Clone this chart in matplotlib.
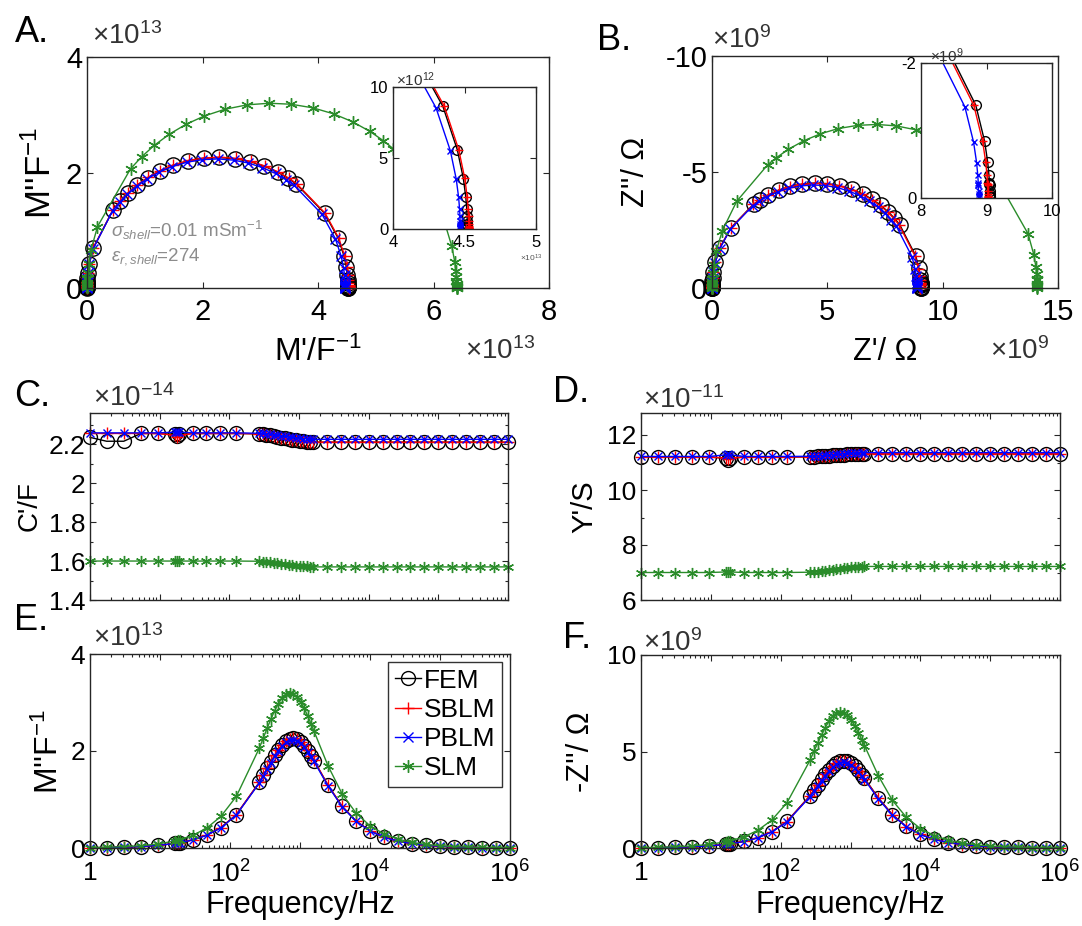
import numpy as np
import matplotlib
matplotlib.use("Agg")
import matplotlib.pyplot as plt
from matplotlib.lines import Line2D
from matplotlib.ticker import FixedLocator, NullFormatter

plt.rcParams['font.family'] = ['Liberation Sans', 'DejaVu Sans']
plt.rcParams['mathtext.fontset'] = 'custom'
plt.rcParams['mathtext.rm'] = 'Liberation Sans'
plt.rcParams['mathtext.it'] = 'Liberation Sans:italic'

# frequency points (Hz)
freq = [1, 1.73, 3.05, 5.4, 9.5, 16.6, 17.8, 19.1, 29.9, 46.8, 74.1, 123,
        263, 300, 340, 385, 435, 490, 555, 630, 710, 800, 905, 1020, 1150, 1300, 1450,
        1585, 2512, 3981, 6310, 1e4, 15850, 25120, 39810, 63100, 1e5, 158500, 251200,
        398100, 631000, 1e6]

# M' (x1e13 F^-1)
fem_mr = [0.0000, 0.0000, 0.0001, 0.0002, 0.0007, 0.0020, 0.0023, 0.0026, 0.0065, 0.0158, 0.0394, 0.107,
          0.451, 0.570, 0.706, 0.867, 1.052, 1.256, 1.493, 1.757, 2.020, 2.288, 2.566, 2.825, 3.071, 3.301, 3.485,
          3.621, 4.113, 4.349, 4.450, 4.492, 4.509, 4.5155, 4.5182, 4.5193, 4.5197, 4.5199, 4.52, 4.52, 4.52, 4.52]
sblm_mr = [0.0000, 0.0000, 0.0001, 0.0002, 0.0007, 0.0020, 0.0023, 0.0026, 0.0065, 0.0158, 0.0395, 0.1072,
           0.4520, 0.5713, 0.7076, 0.8689, 1.0543, 1.2588, 1.4963, 1.7609, 2.0244, 2.2930, 2.5716, 2.8312, 3.0778, 3.3083, 3.4927,
           3.6290, 4.1220, 4.3586, 4.4598, 4.5019, 4.5189, 4.5254, 4.5281, 4.5292, 4.5296, 4.5298, 4.53, 4.53, 4.53, 4.53]
pblm_mr = [0.0000, 0.0000, 0.0001, 0.0002, 0.0006, 0.0020, 0.0023, 0.0026, 0.0064, 0.0156, 0.0390, 0.1058,
           0.4460, 0.5637, 0.6982, 0.8574, 1.0403, 1.2421, 1.4765, 1.7376, 1.9976, 2.2627, 2.5376, 2.7938, 3.0371, 3.2645, 3.4465,
           3.5809, 4.0675, 4.3007, 4.4012, 4.4423, 4.4589, 4.4656, 4.4683, 4.4693, 4.4697, 4.4699, 4.47, 4.47, 4.47, 4.47]
slm_mr = [0.0000, 0.0000, 0.0001, 0.0004, 0.0011, 0.0034, 0.0039, 0.0045, 0.0110, 0.0269, 0.0671, 0.1814,
          0.7533, 0.9466, 1.1667, 1.4227, 1.7114, 2.0262, 2.3853, 2.7750, 3.1552, 3.5360, 3.9194, 4.2714, 4.5978, 4.8979, 5.1341,
          5.3050, 5.9142, 6.1971, 6.3174, 6.3670, 6.3868, 6.3948, 6.3979, 6.3992, 6.3997, 6.3999, 6.40, 6.40, 6.40, 6.40]

# M'' (x1e13 F^-1)
fem_mi = [0.0057, 0.0099, 0.0174, 0.0309, 0.0544, 0.0949, 0.1017, 0.1094, 0.1706, 0.2667, 0.4204, 0.6870,
          1.3546, 1.5002, 1.6412, 1.780, 1.910, 2.025, 2.126, 2.204, 2.247, 2.260, 2.239, 2.188, 2.109, 2.006, 1.899,
          1.804, 1.294, 0.863, 0.557, 0.355, 0.225, 0.142, 0.0897, 0.0566, 0.0357, 0.0225, 0.0142, 0.0089, 0.0057, 0.0036]
sblm_mi = [0.0057, 0.0099, 0.0175, 0.0310, 0.0545, 0.0951, 0.1019, 0.1096, 0.1710, 0.2673, 0.4213, 0.6885,
           1.3576, 1.5035, 1.6448, 1.7839, 1.9142, 2.0295, 2.1307, 2.2088, 2.2519, 2.2650, 2.2439, 2.1928, 2.1136, 2.0104, 1.9032,
           1.8080, 1.2968, 0.8649, 0.5582, 0.3558, 0.2255, 0.1423, 0.0899, 0.0567, 0.0358, 0.0225, 0.0142, 0.0089, 0.0057, 0.0036]
pblm_mi = [0.0056, 0.0098, 0.0172, 0.0306, 0.0538, 0.0939, 0.1006, 0.1082, 0.1687, 0.2638, 0.4157, 0.6794,
           1.3396, 1.4836, 1.6230, 1.7603, 1.8889, 2.0026, 2.1025, 2.1796, 2.2221, 2.2350, 2.2142, 2.1638, 2.0857, 1.9838, 1.8780,
           1.7840, 1.2797, 0.8535, 0.5508, 0.3511, 0.2225, 0.1404, 0.0887, 0.0560, 0.0353, 0.0223, 0.0140, 0.0088, 0.0056, 0.0036]
slm_mi = [0.0089, 0.0154, 0.0271, 0.0480, 0.0845, 0.1476, 0.1582, 0.1698, 0.2653, 0.4143, 0.6515, 1.0624,
          2.0627, 2.2726, 2.4710, 2.6611, 2.8326, 2.9766, 3.0944, 3.1718, 3.1994, 3.1821, 3.1181, 3.0150, 2.8787, 2.7123, 2.5491,
          2.4102, 1.6954, 1.1206, 0.7206, 0.4582, 0.2899, 0.1833, 0.1157, 0.0730, 0.0461, 0.0291, 0.0184, 0.0116, 0.0073, 0.0046]

# Z' (x1e9 Ohm)
fem_zr = [9.05, 9.05, 9.05, 9.0496, 9.0487, 9.046, 9.0454, 9.0447, 9.037, 9.018, 8.971, 8.836,
          8.147, 7.910, 7.636, 7.313, 6.944, 6.536, 6.060, 5.531, 5.006, 4.468, 3.913, 3.394, 2.901, 2.441, 2.072,
          1.801, 0.815, 0.343, 0.139, 0.056, 0.0224, 0.0090, 0.0035, 0.0014, 0.0006, 0.0002, 0.0001, 0.0, 0.0, 0.0]
sblm_zr = [9.02, 9.02, 9.02, 9.0196, 9.0187, 9.016, 9.0154, 9.0147, 9.007, 8.988, 8.941, 8.807,
           8.120, 7.884, 7.611, 7.289, 6.921, 6.514, 6.040, 5.513, 4.989, 4.453, 3.900, 3.383, 2.891, 2.433, 2.065,
           1.795, 0.812, 0.342, 0.139, 0.056, 0.0223, 0.0090, 0.0035, 0.0014, 0.0006, 0.0002, 0.0001, 0.0, 0.0, 0.0]
pblm_zr = [8.88, 8.88, 8.88, 8.8796, 8.8787, 8.876, 8.8754, 8.8748, 8.867, 8.849, 8.803, 8.670,
           7.994, 7.761, 7.493, 7.176, 6.814, 6.413, 5.946, 5.427, 4.912, 4.384, 3.840, 3.330, 2.847, 2.395, 2.033,
           1.767, 0.800, 0.337, 0.136, 0.055, 0.0220, 0.0088, 0.0034, 0.0014, 0.0006, 0.0002, 0.0001, 0.0, 0.0, 0.0]
slm_zr = [14.100, 14.100, 14.100, 14.099, 14.098, 14.093, 14.091, 14.090, 14.076, 14.041, 13.952, 13.700,
          12.440, 12.015, 11.530, 10.966, 10.330, 9.636, 8.845, 7.986, 7.149, 6.310, 5.465, 4.690, 3.970, 3.309, 2.789,
          2.413, 1.070, 0.447, 0.182, 0.0728, 0.0290, 0.0116, 0.0047, 0.0018, 0.0007, 0.0003, 0.0001, 0.0, 0.0, 0.0]

# -Z'' (x1e9 Ohm)
fem_nzi = [0.0115, 0.0198, 0.0349, 0.0619, 0.1089, 0.190, 0.204, 0.219, 0.342, 0.534, 0.842, 1.376,
           2.712, 3.004, 3.286, 3.564, 3.824, 4.054, 4.257, 4.412, 4.500, 4.525, 4.483, 4.381, 4.224, 4.016, 3.802,
           3.613, 2.590, 1.728, 1.116, 0.710, 0.450, 0.284, 0.180, 0.113, 0.0715, 0.0451, 0.0284, 0.0179, 0.0113, 0.0071]
sblm_nzi = [0.0115, 0.0197, 0.0348, 0.0617, 0.1085, 0.189, 0.203, 0.218, 0.341, 0.532, 0.839, 1.371,
            2.703, 2.994, 3.275, 3.552, 3.811, 4.041, 4.243, 4.397, 4.485, 4.510, 4.468, 4.366, 4.210, 4.003, 3.789,
            3.601, 2.581, 1.722, 1.112, 0.708, 0.449, 0.283, 0.179, 0.113, 0.0713, 0.0450, 0.0283, 0.0178, 0.0113, 0.0071]
pblm_nzi = [0.0113, 0.0194, 0.0342, 0.0607, 0.1069, 0.186, 0.200, 0.215, 0.336, 0.524, 0.826, 1.350,
            2.661, 2.948, 3.224, 3.497, 3.752, 3.978, 4.177, 4.329, 4.416, 4.440, 4.399, 4.299, 4.145, 3.941, 3.731,
            3.545, 2.541, 1.696, 1.095, 0.697, 0.442, 0.279, 0.177, 0.111, 0.0702, 0.0443, 0.0279, 0.0176, 0.0111, 0.0070]
slm_nzi = [0.0196, 0.0338, 0.0598, 0.1058, 0.1861, 0.3251, 0.3486, 0.3741, 0.5846, 0.9127, 1.435, 2.341,
           4.544, 5.007, 5.444, 5.863, 6.241, 6.558, 6.817, 6.988, 7.049, 7.011, 6.870, 6.643, 6.342, 5.976, 5.616,
           5.310, 3.735, 2.469, 1.588, 1.010, 0.639, 0.404, 0.255, 0.161, 0.1015, 0.0640, 0.0405, 0.0255, 0.0161, 0.0102]

# C' (x1e-14 F)
fem_c = [2.235, 2.215, 2.215, 2.255, 2.255, 2.250, 2.240, 2.250, 2.255, 2.255, 2.255, 2.255,
         2.253, 2.251, 2.248, 2.245, 2.242, 2.238, 2.234, 2.230, 2.227, 2.223, 2.220, 2.217, 2.215, 2.213, 2.211,
         2.210, 2.210, 2.210, 2.210, 2.210, 2.210, 2.210, 2.210, 2.210, 2.210, 2.210, 2.210, 2.210, 2.210, 2.210]
sblm_c = [2.255, 2.255, 2.255, 2.255, 2.255, 2.245, 2.235, 2.245, 2.255, 2.255, 2.255, 2.255,
          2.253, 2.251, 2.248, 2.245, 2.242, 2.238, 2.234, 2.230, 2.227, 2.223, 2.220, 2.217, 2.215, 2.213, 2.211,
          2.210, 2.210, 2.210, 2.210, 2.210, 2.210, 2.210, 2.210, 2.210, 2.210, 2.210, 2.210, 2.210, 2.210, 2.210]
pblm_c = [2.258, 2.258, 2.258, 2.258, 2.258, 2.262, 2.265, 2.262, 2.258, 2.258, 2.258, 2.258,
          2.256, 2.255, 2.253, 2.251, 2.248, 2.245, 2.243, 2.240, 2.237, 2.235, 2.232, 2.230, 2.228, 2.227, 2.226,
          2.225, 2.225, 2.225, 2.225, 2.225, 2.225, 2.225, 2.225, 2.225, 2.225, 2.225, 2.225, 2.225, 2.225, 2.225]
slm_c = [1.600, 1.600, 1.600, 1.600, 1.600, 1.600, 1.600, 1.600, 1.600, 1.600, 1.600, 1.600,
         1.599, 1.597, 1.595, 1.593, 1.591, 1.589, 1.586, 1.584, 1.581, 1.579, 1.577, 1.575, 1.573, 1.572, 1.571,
         1.570, 1.570, 1.570, 1.570, 1.570, 1.570, 1.570, 1.570, 1.570, 1.570, 1.570, 1.570, 1.570, 1.570, 1.570]

# Y' (x1e-11 S)
fem_y = [11.20, 11.20, 11.20, 11.20, 11.20, 11.15, 11.10, 11.15, 11.20, 11.20, 11.20, 11.20,
         11.206, 11.212, 11.219, 11.226, 11.236, 11.246, 11.255, 11.266, 11.276, 11.285, 11.294, 11.302, 11.308, 11.313, 11.316,
         11.32, 11.32, 11.32, 11.32, 11.32, 11.32, 11.32, 11.32, 11.32, 11.32, 11.32, 11.32, 11.32, 11.32, 11.32]
sblm_y = [11.20, 11.20, 11.20, 11.20, 11.20, 11.16, 11.12, 11.16, 11.20, 11.20, 11.20, 11.20,
          11.206, 11.212, 11.219, 11.226, 11.236, 11.246, 11.255, 11.266, 11.276, 11.285, 11.294, 11.302, 11.308, 11.313, 11.316,
          11.32, 11.32, 11.32, 11.32, 11.32, 11.32, 11.32, 11.32, 11.32, 11.32, 11.32, 11.32, 11.32, 11.32, 11.32]
pblm_y = [11.22, 11.22, 11.22, 11.22, 11.22, 11.28, 11.30, 11.28, 11.22, 11.22, 11.22, 11.22,
          11.227, 11.234, 11.242, 11.251, 11.262, 11.273, 11.284, 11.297, 11.308, 11.319, 11.329, 11.339, 11.346, 11.352, 11.356,
          11.36, 11.36, 11.36, 11.36, 11.36, 11.36, 11.36, 11.36, 11.36, 11.36, 11.36, 11.36, 11.36, 11.36, 11.36]
slm_y = [7.00, 7.00, 7.00, 7.00, 7.00, 7.02, 7.03, 7.02, 7.00, 7.00, 7.00, 7.00,
         7.011, 7.022, 7.035, 7.048, 7.066, 7.084, 7.101, 7.121, 7.139, 7.156, 7.172, 7.187, 7.198, 7.207, 7.213,
         7.22, 7.22, 7.22, 7.22, 7.22, 7.22, 7.22, 7.22, 7.22, 7.22, 7.22, 7.22, 7.22, 7.22, 7.22]

labels = ['FEM', 'SBLM', 'PBLM', 'SLM']
GREEN = '#2a8c2a'
AXC = '#262626'
ASTER = (6, 2, 0)  # MATLAB-like '*' marker
W, H = 1082, 926

fig = plt.figure(figsize=(W / 100, H / 100), dpi=100)


def px_axes(l, t, r, b, **kw):
    return fig.add_axes([l / W, 1 - b / H, (r - l) / W, (b - t) / H], **kw)


def ftext(x, y, s, **kw):
    kw.setdefault('color', 'black')
    fig.text(x / W, 1 - y / H, s, **kw)


def style(ax, size=16, xpad=4):
    ax.tick_params(direction='in', which='both', top=True, right=True, labelsize=size,
                   colors=AXC, labelcolor='black', width=0.8)
    ax.tick_params(which='major', length=4)
    ax.tick_params(which='minor', length=2.5)
    ax.tick_params(axis='x', pad=xpad)
    for sp in ax.spines.values():
        sp.set_color(AXC)
        sp.set_linewidth(1.0)


def draw(ax, xs, ys, ms=10, sms=8, clip=False):
    # FEM circles, SBLM +, PBLM x, SLM *
    ax.plot(xs[0], ys[0], '-o', color='black', mfc='none', ms=ms, mew=1.0, lw=1.0, clip_on=clip)
    ax.plot(xs[1], ys[1], '-+', color='red', ms=sms, mew=1.0, lw=1.0, clip_on=clip)
    ax.plot(xs[2], ys[2], '-x', color='blue', ms=sms * 0.8, mew=1.0, lw=1.0, clip_on=clip)
    ax.plot(xs[3], ys[3], '-', marker=ASTER, color=GREEN, ms=sms, mew=1.0, lw=1.0, clip_on=clip)


mr = [fem_mr, sblm_mr, pblm_mr, slm_mr]
mi = [fem_mi, sblm_mi, pblm_mi, slm_mi]
zr = [fem_zr, sblm_zr, pblm_zr, slm_zr]
nzi = [fem_nzi, sblm_nzi, pblm_nzi, slm_nzi]
zi = [[-v for v in s] for s in nzi]

# ---- A: modulus Nyquist ----
axA = px_axes(87, 57, 549, 288)
draw(axA, mr, mi, ms=11, sms=9)
axA.set_xlim(0, 8)
axA.set_ylim(0, 4)
axA.set_xticks([0, 2, 4, 6, 8])
axA.set_yticks([0, 2, 4])
style(axA, 21, xpad=7)
axA.set_ylabel("M''F$^{-1}$", fontsize=25, labelpad=6)
axA.set_xlabel("M'/F$^{-1}$", fontsize=23, labelpad=8)
axA.text(0.42, 0.88, r"$\sigma_{shell}$=0.01 mSm$^{-1}$", color='#8c8c8c', fontsize=13.5)
axA.text(0.42, 0.48, r"$\varepsilon_{r,shell}$=274", color='#8c8c8c', fontsize=13.5)

insA = px_axes(393, 87, 536, 229)
draw(insA, mr, mi, ms=7, sms=6, clip=True)
insA.set_xlim(4, 5)
insA.set_ylim(0, 1.0)
insA.set_xticks([4, 4.5, 5])
insA.set_xticklabels(['4', '4.5', '5'])
insA.set_yticks([0, 0.5, 1.0])
insA.set_yticklabels(['0', '5', '10'])
style(insA, 12)
insA.set_zorder(5)

# ---- B: impedance Nyquist ----
axB = px_axes(712, 56, 1058, 288)
draw(axB, zr, zi, ms=11, sms=9)
axB.set_xlim(0, 15)
axB.set_ylim(0, -10)
axB.set_xticks([0, 5, 10, 15])
axB.set_yticks([-10, -5, 0])
axB.set_yticklabels(['-10', '-5', '0'])
style(axB, 21, xpad=7)
axB.set_ylabel("Z''/ Ω", fontsize=22, labelpad=10)
axB.set_xlabel("Z'/ Ω", fontsize=22, labelpad=8)

insB = px_axes(921, 63, 1052, 198)
draw(insB, zr, zi, ms=7, sms=6, clip=True)
insB.set_xlim(8, 10)
insB.set_ylim(0, -2)
insB.set_xticks([8, 9, 10])
insB.set_yticks([-2, 0])
insB.set_yticklabels(['-2', '0'])
style(insB, 12)
insB.set_zorder(5)

# ---- frequency panels ----
decades = [1, 10, 100, 1e3, 1e4, 1e5, 1e6]
dec_labels = ['1', '', r'$10^2$', '', r'$10^4$', '', r'$10^6$']
minor = [m * d for d in decades[:-1] for m in range(2, 10)]


def freq_axis(ax, show):
    ax.set_xscale('log')
    ax.set_xlim(1, 1e6)
    ax.xaxis.set_major_locator(FixedLocator(decades))
    ax.xaxis.set_minor_locator(FixedLocator(minor))
    ax.xaxis.set_minor_formatter(NullFormatter())
    if show:
        ax.set_xticklabels(dec_labels)
        ax.set_xlabel('Frequency/Hz', fontsize=22, labelpad=2)
    else:
        ax.set_xticklabels([''] * len(decades))


fx = [freq, freq, freq, freq]

axC = px_axes(90, 413, 508, 600)
draw(axC, fx, [fem_c, sblm_c, pblm_c, slm_c], ms=10, sms=8)
freq_axis(axC, False)
axC.set_ylim(1.4, 2.36)
axC.set_yticks([1.4, 1.6, 1.8, 2.0, 2.2])
axC.set_yticklabels(['1.4', '1.6', '1.8', '2', '2.2'])
axC.yaxis.set_minor_locator(FixedLocator([1.5, 1.7, 1.9, 2.1, 2.3]))
style(axC, 19)
axC.set_ylabel("C'/F", fontsize=20, labelpad=4)

axD = px_axes(641, 413, 1060, 600)
draw(axD, fx, [fem_y, sblm_y, pblm_y, slm_y], ms=10, sms=8)
freq_axis(axD, False)
axD.set_ylim(6, 12.8)
axD.set_yticks([6, 8, 10, 12])
axD.yaxis.set_minor_locator(FixedLocator([7, 9, 11]))
style(axD, 19)
axD.set_ylabel("Y'/S", fontsize=21, labelpad=6)

axE = px_axes(90, 654, 510, 848)
draw(axE, fx, mi, ms=10, sms=8)
freq_axis(axE, True)
axE.set_ylim(0, 4)
axE.set_yticks([0, 2, 4])
style(axE, 19, xpad=9)
axE.set_ylabel("M''F$^{-1}$", fontsize=23, labelpad=4)
handles = [Line2D([], [], color='black', marker='o', mfc='none', ms=10, lw=1.0),
           Line2D([], [], color='red', marker='+', ms=9, lw=1.0),
           Line2D([], [], color='blue', marker='x', ms=7, lw=1.0),
           Line2D([], [], color=GREEN, marker=ASTER, ms=9, lw=1.0)]
leg = axE.legend(handles, labels, loc='upper right', fontsize=19, frameon=True, fancybox=False,
                 handlelength=1.0, handletextpad=0.1, borderpad=0.25, labelspacing=0.2,
                 borderaxespad=0.3)
leg.get_frame().set_edgecolor('black')
leg.get_frame().set_linewidth(1.0)

axF = px_axes(641, 655, 1060, 848)
draw(axF, fx, nzi, ms=10, sms=8)
freq_axis(axF, True)
axF.set_ylim(0, 10)
axF.set_yticks([0, 5, 10])
style(axF, 19, xpad=9)
axF.set_ylabel("-Z''/ Ω", fontsize=22, labelpad=8)

# panel letters and exponent labels
for x, y, s in [(15, 33, 'A.'), (597, 40, 'B.'), (14, 396, 'C.'), (553, 393, 'D.'),
                (14, 621, 'E.'), (563, 639, 'F.')]:
    ftext(x, y, s, fontsize=26, va='center')

for x, y, s in [(92, 36, r'$\times10^{13}$'), (712, 40, r'$\times10^{9}$'),
                (465, 351, r'$\times10^{13}$'), (990, 351, r'$\times10^{9}$'),
                (93, 398, r'$\times10^{-14}$'), (643, 400, r'$\times10^{-11}$'),
                (93, 638, r'$\times10^{13}$'), (643, 643, r'$\times10^{9}$')]:
    ftext(x, y, s, fontsize=20, va='center', color='#333333')

ftext(396, 80, r'$\times10^{12}$', fontsize=11, va='center', color='#333333')
ftext(930, 56, r'$\times10^{9}$', fontsize=11, va='center', color='#333333')
ftext(520, 258, r'$\times10^{13}$', fontsize=6, va='center', color='#555555')

fig.savefig('out.png', dpi=100)
